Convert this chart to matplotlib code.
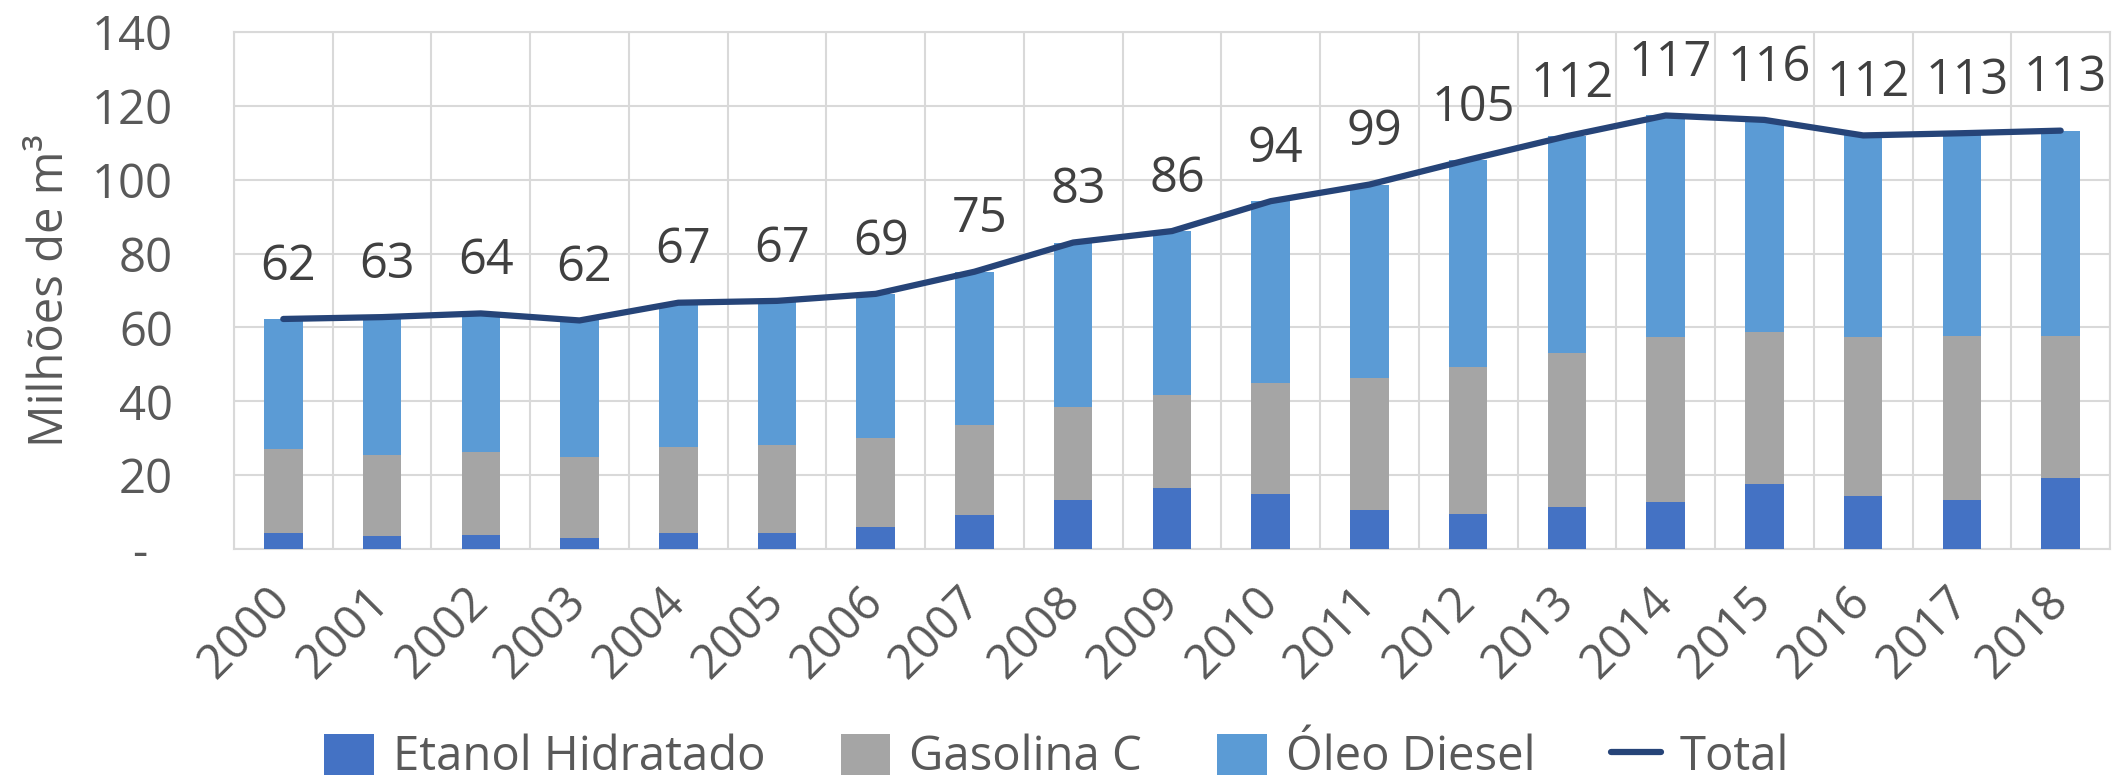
import matplotlib.pyplot as plt
import numpy as np

# Dados (milhões de m³)
anos = ['2000', '2001', '2002', '2003', '2004', '2005', '2006', '2007', '2008', '2009',
        '2010', '2011', '2012', '2013', '2014', '2015', '2016', '2017', '2018']
etanol = [4.4, 3.4, 3.7, 3.1, 4.4, 4.4, 6.0, 9.2, 13.2, 16.5,
          15.0, 10.7, 9.6, 11.4, 12.8, 17.7, 14.4, 13.4, 19.2]
gasolina = [22.7, 22.2, 22.6, 21.9, 23.3, 23.9, 24.1, 24.4, 25.3, 25.3,
            29.9, 35.7, 39.8, 41.7, 44.7, 41.1, 43.1, 44.4, 38.6]
diesel = [35.2, 37.2, 37.5, 36.9, 39.0, 38.9, 39.0, 41.5, 44.5, 44.3,
          49.3, 52.3, 56.0, 58.7, 59.9, 57.4, 54.5, 54.8, 55.5]
total = [62.3, 62.8, 63.8, 61.9, 66.7, 67.2, 69.1, 75.1, 83.0, 86.1,
         94.2, 98.7, 105.4, 111.8, 117.4, 116.2, 112.0, 112.6, 113.3]
rotulos_total = [62, 63, 64, 62, 67, 67, 69, 75, 83, 86,
                 94, 99, 105, 112, 117, 116, 112, 113, 113]

plt.rcParams['font.family'] = ['Open Sans', 'DejaVu Sans']
cinza_texto = '#595959'

fig = plt.figure(figsize=(21.13, 7.81), dpi=100)
ax = fig.add_axes([0.1107, 0.297, 0.8879, 0.662])

x = np.arange(len(anos))
largura = 0.39
b1 = ax.bar(x, etanol, largura, color='#4472C4', label='Etanol Hidratado', zorder=3)
b2 = ax.bar(x, gasolina, largura, bottom=etanol, color='#A5A5A5', label='Gasolina C', zorder=3)
base_diesel = np.array(etanol) + np.array(gasolina)
b3 = ax.bar(x, diesel, largura, bottom=base_diesel, color='#5B9BD5', label='Óleo Diesel', zorder=3)
l1, = ax.plot(x, total, color='#264478', linewidth=4.5, label='Total', zorder=4,
              solid_capstyle='round')

# Rótulos dos totais
for xi, yi, r in zip(x, total, rotulos_total):
    ax.annotate(str(r), (xi, yi), xytext=(5, 52), textcoords='offset pixels',
                ha='center', va='center', fontsize=35, color='#404040')

ax.set_xlim(-0.5, len(anos) - 0.5)
ax.set_ylim(0, 140)
ax.set_yticks(range(0, 141, 20))
ax.set_yticklabels(['-  '] + [str(v) for v in range(20, 141, 20)])
ax.set_xticks(x)
ax.set_xticklabels(anos, rotation=45, ha='right', va='center', rotation_mode='anchor')

# Grade
ax.set_xticks(np.arange(-0.5, len(anos), 1), minor=True)
ax.grid(axis='y', which='major', color='#D9D9D9', linewidth=1.5, zorder=0)
ax.grid(axis='x', which='minor', color='#D9D9D9', linewidth=1.5, zorder=0)
ax.grid(axis='x', which='major', visible=False)
for s in ax.spines.values():
    s.set_color('#D9D9D9')
    s.set_linewidth(1.5)

ax.tick_params(axis='both', which='both', length=0, labelsize=34, colors=cinza_texto)
ax.tick_params(axis='y', pad=44)
ax.tick_params(axis='x', pad=33)

ax.set_ylabel('Milhões de m³', fontsize=34, color=cinza_texto)
ax.yaxis.set_label_coords(-0.085, 0.5)

fig.legend([b1, b2, b3, l1], ['Etanol Hidratado', 'Gasolina C', 'Óleo Diesel', 'Total'],
           loc='center', bbox_to_anchor=(0.5, 0.03), ncol=4, frameon=False,
           fontsize=34, labelcolor=cinza_texto, handlelength=1.05, handleheight=0.95,
           columnspacing=1.6, handletextpad=0.4, borderpad=0)

fig.savefig('out.png', dpi=100)
